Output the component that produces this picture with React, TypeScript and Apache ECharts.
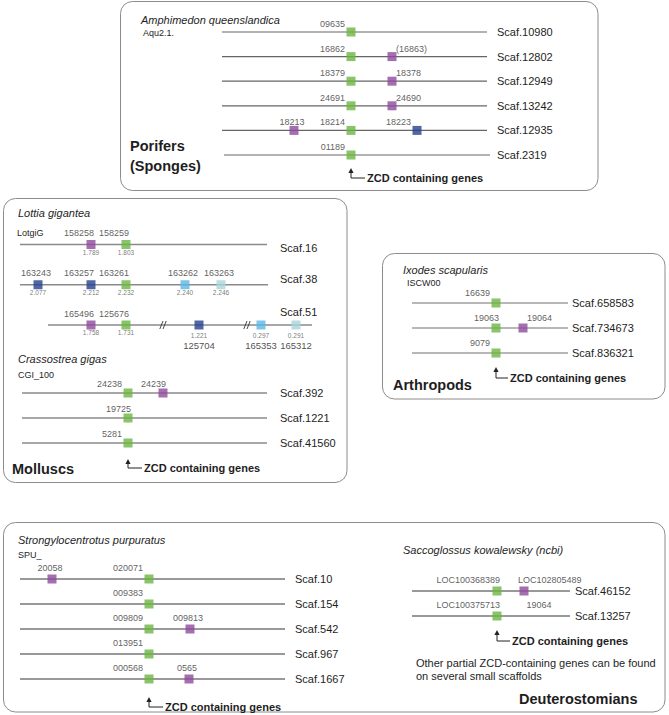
import React, { useEffect, useRef } from "react";
import * as echarts from "echarts";

const W = 669;
const H = 715;
const FONT = '"Liberation Sans", Arial, Helvetica, sans-serif';

// gene types: Z = ZCD-containing gene, P = purple, N = navy, B = light blue, C = pale cyan, X = label only
type Gene = { id: string; row: number; pos: number; type: string; align: string; sub?: string; below?: string };

// ---------------- Porifers (Amphimedon queenslandica) ----------------
const poriferScaffolds = ["Scaf.10980", "Scaf.12802", "Scaf.12949", "Scaf.13242", "Scaf.12935", "Scaf.2319"];
const poriferSpans = [[0, 265], [0, 265], [0, 265], [0, 265], [0, 265], [2, 268]];
const poriferGenes: Gene[] = [
  { id: "09635", row: 0, pos: 129, type: "Z", align: "R" },
  { id: "16862", row: 1, pos: 129, type: "Z", align: "R" },
  { id: "(16863)", row: 1, pos: 170, type: "P", align: "L" },
  { id: "18379", row: 2, pos: 129, type: "Z", align: "R" },
  { id: "18378", row: 2, pos: 170, type: "P", align: "L" },
  { id: "24691", row: 3, pos: 129, type: "Z", align: "R" },
  { id: "24690", row: 3, pos: 170, type: "P", align: "L" },
  { id: "18213", row: 4, pos: 72, type: "P", align: "C" },
  { id: "18214", row: 4, pos: 129, type: "Z", align: "R" },
  { id: "18223", row: 4, pos: 195, type: "N", align: "R" },
  { id: "01189", row: 5, pos: 129, type: "Z", align: "R" },
];

// ---------------- Molluscs: Lottia gigantea ----------------
const lottiaScaffolds = ["Scaf.16", "Scaf.38", "Scaf.51"];
const lottiaSpans = [[0, 247], [0, 248], [28, 292]];
const lottiaBreaks = [[], [], [143, 227]];
const lottiaGenes: Gene[] = [
  { id: "158258", row: 0, pos: 71, type: "P", align: "r", sub: "1.789" },
  { id: "158259", row: 0, pos: 106, type: "Z", align: "r", sub: "1.803" },
  { id: "163243", row: 1, pos: 18, type: "N", align: "C", sub: "2.077" },
  { id: "163257", row: 1, pos: 71, type: "N", align: "r", sub: "2.212" },
  { id: "163261", row: 1, pos: 106, type: "Z", align: "r", sub: "2.232" },
  { id: "163262", row: 1, pos: 165, type: "B", align: "C", sub: "2.240" },
  { id: "163263", row: 1, pos: 201, type: "C", align: "C", sub: "2.246" },
  { id: "165496", row: 2, pos: 71, type: "P", align: "r", sub: "1.758" },
  { id: "125676", row: 2, pos: 106, type: "Z", align: "r", sub: "1.731" },
  { id: "", row: 2, pos: 179, type: "N", align: "C", sub: "1.221", below: "125704" },
  { id: "", row: 2, pos: 241, type: "B", align: "C", sub: "0.297", below: "165353" },
  { id: "", row: 2, pos: 276, type: "C", align: "C", sub: "0.291", below: "165312" },
];

// ---------------- Molluscs: Crassostrea gigas ----------------
const crassoScaffolds = ["Scaf.392", "Scaf.1221", "Scaf.41560"];
const crassoSpans = [[0, 245], [0, 245], [0, 245]];
const crassoGenes: Gene[] = [
  { id: "24238", row: 0, pos: 106, type: "Z", align: "R" },
  { id: "24239", row: 0, pos: 141, type: "P", align: "r" },
  { id: "19725", row: 1, pos: 106, type: "Z", align: "r" },
  { id: "5281", row: 2, pos: 106, type: "Z", align: "R" },
];

// ---------------- Arthropods: Ixodes scapularis ----------------
const ixodesScaffolds = ["Scaf.658583", "Scaf.734673", "Scaf.836321"];
const ixodesSpans = [[0, 156], [0, 156], [0, 156]];
const ixodesGenes: Gene[] = [
  { id: "16639", row: 0, pos: 84, type: "Z", align: "R" },
  { id: "19063", row: 1, pos: 84, type: "Z", align: "r" },
  { id: "19064", row: 1, pos: 111, type: "P", align: "L" },
  { id: "9079", row: 2, pos: 84, type: "Z", align: "R" },
];

// ---------------- Deuterostomians: Strongylocentrotus purpuratus ----------------
const strongScaffolds = ["Scaf.10", "Scaf.154", "Scaf.542", "Scaf.967", "Scaf.1667"];
const strongSpans = [[0, 265], [0, 265], [0, 265], [0, 265], [0, 265]];
const strongGenes: Gene[] = [
  { id: "20058", row: 0, pos: 32, type: "P", align: "C" },
  { id: "020071", row: 0, pos: 129, type: "Z", align: "R" },
  { id: "009383", row: 1, pos: 129, type: "Z", align: "R" },
  { id: "009809", row: 2, pos: 129, type: "Z", align: "R" },
  { id: "009813", row: 2, pos: 170, type: "P", align: "C" },
  { id: "013951", row: 3, pos: 129, type: "Z", align: "R" },
  { id: "000568", row: 4, pos: 129, type: "Z", align: "R" },
  { id: "0565", row: 4, pos: 169, type: "P", align: "C" },
];

// ---------------- Deuterostomians: Saccoglossus kowalewsky ----------------
const saccoScaffolds = ["Scaf.46152", "Scaf.13257"];
const saccoSpans = [[0, 158], [0, 158]];
const saccoGenes: Gene[] = [
  { id: "LOC100368389", row: 0, pos: 85, type: "Z", align: "r" },
  { id: "LOC102805489", row: 0, pos: 112, type: "P", align: "l" },
  { id: "LOC100375713", row: 1, pos: 85, type: "Z", align: "r" },
  { id: "19064", row: 1, pos: 129, type: "X", align: "C" },
];

// ---------------- styles / layout ----------------
const COLORS: Record<string, string> = {
  Z: "#6db544",
  P: "#8d4a9c",
  N: "#26408d",
  B: "#5db6e6",
  C: "#a8d5d9",
  X: "rgba(0,0,0,0)",
};
const ALIGN: Record<string, { dx: number; align: string }> = {
  R: { dx: -6, align: "right" },
  r: { dx: 3, align: "right" },
  L: { dx: 4, align: "left" },
  l: { dx: -6, align: "left" },
  C: { dx: -2, align: "center" },
};
const TEXT = "#1e1e1e";

type Panel = {
  scaffolds: string[];
  spans: number[][];
  genes: Gene[];
  breaks?: number[][];
  left: number;
  width: number;
  firstRow: number;
  step: number;
  labelX: number;
  labelDy?: number[];
  geneDy: number;
  track: { color: string; width: number };
  arrow?: { pos: number; tip: number; bend: number; h: number };
};

const panels: Panel[] = [
  {
    scaffolds: poriferScaffolds, spans: poriferSpans, genes: poriferGenes,
    left: 222, width: 268, firstRow: 32, step: 24.6, labelX: 275, geneDy: 8,
    track: { color: "#666666", width: 1.2 },
    arrow: { pos: 129, tip: 13, bend: 23, h: 14 },
  },
  {
    scaffolds: lottiaScaffolds, spans: lottiaSpans, genes: lottiaGenes, breaks: lottiaBreaks,
    left: 20, width: 292, firstRow: 244.5, step: 40.25, labelX: 260, labelDy: [3, -6, -13], geneDy: 11.5,
    track: { color: "#8a8a8a", width: 1.4 },
  },
  {
    scaffolds: crassoScaffolds, spans: crassoSpans, genes: crassoGenes,
    left: 22, width: 245, firstRow: 393, step: 25, labelX: 258, geneDy: 9.5,
    track: { color: "#8a8a8a", width: 1.4 },
    arrow: { pos: 106, tip: 16, bend: 25, h: 14 },
  },
  {
    scaffolds: ixodesScaffolds, spans: ixodesSpans, genes: ixodesGenes,
    left: 412, width: 156, firstRow: 303, step: 25, labelX: 160, geneDy: 10.5,
    track: { color: "#707070", width: 1.2 },
    arrow: { pos: 84, tip: 14, bend: 25, h: 12 },
  },
  {
    scaffolds: strongScaffolds, spans: strongSpans, genes: strongGenes,
    left: 20, width: 265, firstRow: 579, step: 25, labelX: 275, geneDy: 11,
    track: { color: "#777777", width: 1.3 },
    arrow: { pos: 129, tip: 18, bend: 28, h: 14 },
  },
  {
    scaffolds: saccoScaffolds, spans: saccoSpans, genes: saccoGenes,
    left: 412, width: 158, firstRow: 591, step: 25, labelX: 163, geneDy: 11,
    track: { color: "#777777", width: 1.3 },
    arrow: { pos: 85, tip: 14, bend: 25, h: 13 },
  },
];

function txt(x: number, y: number, text: string, opts: any = {}) {
  return {
    type: "text",
    x,
    y,
    silent: true,
    style: {
      text,
      fontSize: opts.size ?? 11,
      fontStyle: opts.italic ? "italic" : "normal",
      fontWeight: opts.bold ? "bold" : "normal",
      fontFamily: FONT,
      fill: opts.color ?? TEXT,
      align: opts.align ?? "left",
      verticalAlign: "middle",
    },
  };
}

function box(x: number, y: number, w: number, h: number) {
  return {
    type: "rect",
    silent: true,
    shape: { x, y, width: w, height: h, r: 12 },
    style: { fill: "rgba(0,0,0,0)", stroke: "#8c8c8c", lineWidth: 1 },
  };
}

function buildOption() {
  const grid: any[] = [];
  const xAxis: any[] = [];
  const yAxis: any[] = [];
  const series: any[] = [];

  panels.forEach((p, i) => {
    const n = p.scaffolds.length;
    grid.push({ left: p.left, top: p.firstRow - p.step / 2, width: p.width, height: p.step * n });
    xAxis.push({ type: "value", gridIndex: i, min: 0, max: p.width, show: false });
    yAxis.push({ type: "value", gridIndex: i, min: -0.5, max: n - 0.5, inverse: true, show: false });

    // scaffold tracks + names
    series.push({
      type: "custom",
      coordinateSystem: "cartesian2d",
      xAxisIndex: i,
      yAxisIndex: i,
      clip: false,
      silent: true,
      encode: { x: [0, 1], y: 2 },
      data: p.spans.map((s, r) => [s[0], s[1], r]),
      renderItem: (params: any, api: any) => {
        const r = api.value(2);
        const a = api.coord([api.value(0), r]);
        const b = api.coord([api.value(1), r]);
        const lx = api.coord([p.labelX, r])[0];
        const dy = p.labelDy ? p.labelDy[params.dataIndex] : 0;
        const children: any[] = [
          {
            type: "line",
            shape: { x1: a[0], y1: a[1], x2: b[0], y2: b[1] },
            style: { stroke: p.track.color, lineWidth: p.track.width },
          },
          {
            type: "text",
            x: lx,
            y: a[1] + dy,
            style: {
              text: p.scaffolds[params.dataIndex],
              fontSize: 11,
              fontFamily: FONT,
              fill: TEXT,
              align: "left",
              verticalAlign: "middle",
            },
          },
        ];
        const br = p.breaks ? p.breaks[params.dataIndex] : [];
        br.forEach((bx) => {
          const c = api.coord([bx, r]);
          [-1.6, 1.6].forEach((k) => {
            children.push({
              type: "line",
              shape: { x1: c[0] + k - 1.6, y1: c[1] + 4, x2: c[0] + k + 1.6, y2: c[1] - 4 },
              style: { stroke: "#333", lineWidth: 0.9 },
            });
          });
        });
        return { type: "group", children };
      },
    });

    // genes
    series.push({
      type: "scatter",
      xAxisIndex: i,
      yAxisIndex: i,
      symbol: "rect",
      symbolSize: 9,
      silent: true,
      emphasis: { disabled: true },
      data: p.genes.map((g) => {
        const al = ALIGN[g.align];
        return {
          name: g.id,
          value: [g.pos, g.row],
          itemStyle: { color: COLORS[g.type] },
          label: {
            show: g.id !== "",
            formatter: g.id,
            position: [4.5 + al.dx, 4.5 - p.geneDy],
            align: al.align,
            verticalAlign: "middle",
            fontSize: 9,
            fontFamily: FONT,
            color: "#333",
          },
        };
      }),
    });

    // values below the genes
    const subs = p.genes.filter((g) => g.sub);
    if (subs.length) {
      series.push({
        type: "scatter",
        xAxisIndex: i,
        yAxisIndex: i,
        symbol: "rect",
        symbolSize: 9,
        silent: true,
        emphasis: { disabled: true },
        itemStyle: { color: "rgba(0,0,0,0)" },
        data: subs.map((g) => ({
          name: g.sub,
          value: [g.pos, g.row],
          label: {
            show: true,
            formatter: g.below ? `{s|${g.sub}}\n{b|${g.below}}` : `{s|${g.sub}}`,
            position: [4.5, 4.5 + (g.below ? 6.5 : 3.5)],
            align: "center",
            verticalAlign: "top",
            rich: {
              s: { fontSize: 6.5, lineHeight: 8, color: "#555", fontFamily: FONT, align: "center" },
              b: { fontSize: 9.5, lineHeight: 12, color: "#222", fontFamily: FONT, align: "center" },
            },
          },
        })),
      });
    }

    // "ZCD containing genes" arrow
    if (p.arrow) {
      const ar = p.arrow;
      series.push({
        type: "custom",
        coordinateSystem: "cartesian2d",
        xAxisIndex: i,
        yAxisIndex: i,
        clip: false,
        silent: true,
        data: [[ar.pos, n - 1]],
        renderItem: (_params: any, api: any) => {
          const c = api.coord([api.value(0), api.value(1)]);
          const x = c[0];
          const tip = c[1] + ar.tip;
          const bend = c[1] + ar.bend;
          return {
            type: "group",
            children: [
              {
                type: "polyline",
                shape: { points: [[x, tip + 4], [x, bend], [x + ar.h, bend]] },
                style: { stroke: "#222", lineWidth: 1, fill: null },
              },
              {
                type: "polygon",
                shape: { points: [[x - 2.6, tip + 5], [x + 2.6, tip + 5], [x, tip]] },
                style: { fill: "#222" },
              },
              {
                type: "text",
                x: x + ar.h + 2,
                y: bend,
                style: {
                  text: "ZCD containing genes",
                  fontSize: 11,
                  fontWeight: "bold",
                  fontFamily: FONT,
                  fill: TEXT,
                  align: "left",
                  verticalAlign: "middle",
                },
              },
            ],
          };
        },
      });
    }
  });

  const graphic = [
    box(120.5, 1.5, 477.5, 189),
    box(3.5, 198.5, 343.5, 284),
    box(382.5, 253.5, 282.5, 145.5),
    box(3.5, 522.5, 661.5, 189.5),
    txt(141, 20, "Amphimedon queenslandica", { italic: true }),
    txt(143, 33, "Aqu2.1.", { size: 9 }),
    txt(130, 146, "Porifers", { bold: true, size: 14.5 }),
    txt(130, 166, "(Sponges)", { bold: true, size: 14.5 }),
    txt(18, 213, "Lottia gigantea", { italic: true }),
    txt(17, 233, "LotgiG", { size: 9 }),
    txt(18, 359, "Crassostrea gigas", { italic: true }),
    txt(18, 375, "CGI_100", { size: 9 }),
    txt(12, 469, "Molluscs", { bold: true, size: 14.5 }),
    txt(403, 270, "Ixodes scapularis", { italic: true }),
    txt(407, 283, "ISCW00", { size: 9 }),
    txt(393, 385, "Arthropods", { bold: true, size: 14.5 }),
    txt(18, 540, "Strongylocentrotus purpuratus", { italic: true }),
    txt(18, 555, "SPU_", { size: 9 }),
    txt(403, 550, "Saccoglossus kowalewsky (ncbi)", { italic: true }),
    txt(416, 663, "Other partial ZCD-containing genes can be found"),
    txt(416, 676, "on several small scaffolds"),
    txt(519, 699, "Deuterostomians", { bold: true, size: 14.5 }),
  ];

  return {
    animation: false,
    backgroundColor: "#ffffff",
    grid,
    xAxis,
    yAxis,
    series,
    graphic,
  };
}

export default function App() {
  const ref = useRef<HTMLDivElement>(null);
  useEffect(() => {
    document.body.style.margin = "0";
    const chart = echarts.init(ref.current!, null, { renderer: "svg" });
    chart.setOption(buildOption() as any);
    return () => chart.dispose();
  }, []);
  return <div ref={ref} style={{ width: W, height: H }} />;
}
